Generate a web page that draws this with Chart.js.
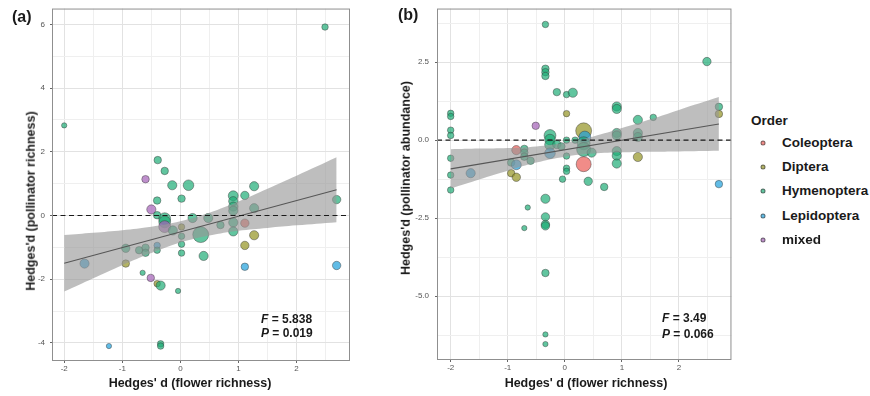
<!DOCTYPE html>
<html><head><meta charset="utf-8">
<script src="https://cdn.jsdelivr.net/npm/chart.js@4.4.1/dist/chart.umd.min.js"></script>
<style>
body{margin:0;background:#fff;}
#wrap{position:relative;width:870px;height:396px;overflow:hidden;font-family:"Liberation Sans",Arial,Helvetica,sans-serif;color:#1a1a1a;}
canvas{position:absolute;top:0;}
.t{position:absolute;white-space:nowrap;font-weight:bold;line-height:1;}
.c{transform:translate(-50%,-50%);}
.v{transform:translate(-50%,-50%) rotate(-90deg);}
.m{transform:translateY(-50%);}
.ttl{font-size:12.5px;}
.tag{font-size:16px;}
.st{font-size:12px;}
.lg{font-size:13.5px;}
.dot{position:absolute;width:5px;height:5px;border-radius:50%;transform:translate(-50%,-50%);box-sizing:border-box;border:0.6px solid rgba(70,70,70,0.7);}
</style>
</head><body>
<div id="wrap">
  <canvas id="ca" width="360" height="396" style="left:0px;width:360px;height:396px"></canvas>
  <canvas id="cb" width="360" height="396" style="left:380px;width:360px;height:396px"></canvas>

  <div class="t tag m" style="left:12px;top:17px">(a)</div>
  <div class="t tag m" style="left:398px;top:15px">(b)</div>

  <div class="t ttl v" style="left:31px;top:201px">Hedges'd (pollinator richness)</div>
  <div class="t ttl c" style="left:190px;top:383px">Hedges' d (flower richness)</div>
  <div class="t ttl v" style="left:406px;top:178px">Hedges'd (pollinator abundance)</div>
  <div class="t ttl c" style="left:586px;top:383px">Hedges' d (flower richness)</div>

  <div class="t st m" style="left:261px;top:319px"><i>F</i> = 5.838</div>
  <div class="t st m" style="left:261px;top:333px"><i>P</i> = 0.019</div>
  <div class="t st m" style="left:662px;top:318px"><i>F</i> = 3.49</div>
  <div class="t st m" style="left:662px;top:334px"><i>P</i> = 0.066</div>

  <div id="legend"></div>
</div>
<script>
// ---------------- DATA ----------------
const ORDERS = ['Coleoptera','Diptera','Hymenoptera','Lepidoptera','mixed'];
const ORDER_CODES = ['C','D','H','L','M'];

// Panel (a): pollinator richness vs flower richness
const aX = [-2.00, 2.49, -1.23, -0.34, -0.34, -0.39, -0.27, -0.60, -0.14, 0.14,
            -0.40, 0.02, -0.50, -0.40, -0.27, -0.27, -0.27, -0.13, 0.02, 0.02,
            0.21, 0.35, 0.02, 0.02, -0.40, -0.40, -0.94, -0.71, -0.60, -0.60,
            -1.65, -0.94, -0.65, -0.51, -0.40, -0.34, -0.04, 0.40, 0.48, 0.69,
            0.91, 0.91, 0.91, 0.91, 0.91, 0.91, 1.11, 1.27, 1.27, 1.11,
            1.27, 1.11, 1.11, 2.69, 2.69];
const aY = [2.83, 5.92, -4.10, -4.03, -4.10, 1.74, 1.40, 1.14, 0.95, 0.95,
            0.47, 0.53, 0.19, 0.01, -0.10, -0.20, -0.35, -0.47, -0.36, -0.65,
            -0.08, -0.60, -0.90, -1.18, -0.94, -1.09, -1.03, -1.09, -1.01, -1.17,
            -1.51, -1.51, -1.80, -1.96, -2.14, -2.20, -2.37, -1.27, -0.08, -0.30,
            0.62, 0.45, 0.28, 0.15, -0.22, -0.50, 0.63, 0.92, 0.23, -0.24,
            -0.62, -0.94, -1.61, 0.50, -1.57];
const aOrder = ['H','H','L','H','H','H','H','M','H','H',
                'H','H','M','H','H','H','M','H','D','H',
                'H','H','H','H','L','H','H','H','H','H',
                'L','D','H','M','D','H','H','H','H','H',
                'H','H','H','H','H','H','H','H','H','C',
                'D','D','L','H','L'];
const aWeight = [1, 1.5, 1, 1.5, 1.5, 2, 2, 2, 3, 4,
                 2, 2, 3, 2, 5, 5, 5, 3, 1.5, 1.5,
                 3, 9, 1.5, 1.5, 1.5, 1.5, 2.5, 2, 2, 2,
                 3, 2, 1, 2, 1.5, 3, 1, 3, 3, 2,
                 3.5, 3, 3, 3, 3, 3, 2.5, 3, 3, 2.5,
                 3, 2.5, 2, 2.5, 2.5];
const aFitX = [-2.00, 2.69];
const aFitY = [-1.50, 0.81];
const aBandX  = [-2.00, -1.50, -1.00, -0.50, 0.00, 0.50, 1.00, 1.50, 2.00, 2.69];
const aBandLo = [-2.39, -1.97, -1.56, -1.18, -0.85, -0.63, -0.48, -0.39, -0.31, -0.21];
const aBandHi = [-0.61, -0.54, -0.46, -0.35, -0.18, 0.09, 0.44, 0.84, 1.25, 1.83];
const aXLim = [-2.21, 2.92];
const aYLim = [-4.57, 6.50];
const aXMajor = [-2, -1, 0, 1, 2];
const aXMinor = [-1.5, -0.5, 0.5, 1.5, 2.5];
const aXLabels = ['-2', '-1', '0', '1', '2'];
const aYMajor = [-4, -2, 0, 2, 4, 6];
const aYMinor = [-3, -1, 1, 3, 5];
const aYLabels = ['-4', '-2', '0', '2', '4', '6'];

// Panel (b): pollinator abundance vs flower richness
const bX = [-0.34, 2.49, -0.34, -0.34, -0.34, -0.14, 0.03, 0.14, -2.00, -2.00,
            -2.00, -2.00, 0.03, -0.51, -0.26, -0.26, -0.26, -0.26, -2.00, -2.00,
            -2.00, -0.85, -0.71, -0.71, -0.71, -0.60, -0.94, -0.85, -1.65, -0.94,
            -0.85, 0.03, 0.03, -0.04, 0.03, 0.18, 0.33, 0.35, 0.33, 0.33,
            0.33, 0.47, 0.03, -0.14, 0.91, 0.91, 1.28, 1.55, 2.70, 2.70,
            0.91, 0.91, 0.91, 0.91, 0.91, 1.28, 1.28, 1.28, 0.41, 0.69,
            2.70, -0.34, -0.65, -0.34, -0.34, -0.34, -0.71, -0.34, -0.34, -0.34,
            -0.06];
const bY = [3.71, 2.52, 2.29, 2.18, 2.06, 1.54, 1.46, 1.52, 0.86, 0.76,
            0.32, 0.15, 0.85, 0.46, 0.15, 0.02, -0.15, -0.42, -0.58, -1.12,
            -1.60, -0.32, -0.28, -0.40, -0.53, -0.66, -0.72, -0.79, -1.06, -1.06,
            -1.19, -0.90, -1.00, -1.25, 0.00, 0.00, 0.30, 0.10, -0.10, -0.30,
            -0.77, -0.40, -0.51, -0.14, 1.08, 1.00, 0.65, 0.73, 1.07, 0.84,
            0.23, 0.15, -0.35, -0.50, -0.75, 0.23, 0.10, -0.54, -1.32, -1.50,
            -1.41, -1.88, -2.16, -2.46, -2.70, -2.75, -2.82, -4.26, -6.23, -6.54,
            -0.20];
const bOrder = ['H','H','H','H','H','H','H','H','H','H',
                'H','H','D','M','H','H','H','L','H','H',
                'H','C','H','H','H','H','H','L','L','D',
                'D','H','H','H','H','H','D','L','H','H',
                'C','H','H','H','H','H','H','H','H','D',
                'H','H','H','H','H','H','H','D','H','H',
                'L','H','H','H','H','H','H','H','H','H',
                'H'];
const bWeight = [1.5, 2.5, 2, 2, 2, 2, 1.5, 3, 1.5, 1.5,
                 1.5, 1.5, 1.5, 2, 5, 4, 4, 4, 1.5, 1.5,
                 1.5, 3, 2, 2, 2, 2, 2, 3.5, 3, 2,
                 2.5, 1.5, 1.5, 1.5, 1.5, 1.5, 9, 5, 6, 7,
                 8, 3, 1.5, 2.5, 3, 3, 3, 1.5, 2, 2,
                 3, 3, 3, 3, 3, 3, 3, 3, 2.5, 2,
                 2, 3, 1, 2.5, 2.5, 2.5, 1, 2, 1, 1,
                 2];
const bFitX = [-2.00, 2.70];
const bFitY = [-0.92, 0.52];
const bBandX  = [-2.00, -1.50, -1.00, -0.50, 0.00, 0.50, 1.00, 1.50, 2.00, 2.70];
const bBandLo = [-1.55, -1.26, -0.98, -0.72, -0.53, -0.43, -0.39, -0.37, -0.36, -0.34];
const bBandHi = [-0.29, -0.27, -0.25, -0.20, -0.08, 0.12, 0.39, 0.67, 0.97, 1.38];
const bXLim = [-2.24, 2.92];
const bYLim = [-7.05, 4.22];
const bXMajor = [-2, -1, 0, 1, 2];
const bXMinor = [-1.5, -0.5, 0.5, 1.5, 2.5];
const bXLabels = ['-2', '-1', '0', '1', '2'];
const bYMajor = [-5, -2.5, 0, 2.5];
const bYMinor = [-6.25, -3.75, -1.25, 1.25, 3.75];
const bYLabels = ['-5.0', '-2.5', '0.0', '2.5'];

// ---------------- STYLE ----------------
const FILL = {
  C: 'rgba(235,95,90,0.72)',
  D: 'rgba(150,150,40,0.72)',
  H: 'rgba(30,172,118,0.70)',
  L: 'rgba(30,160,220,0.70)',
  M: 'rgba(165,100,185,0.72)'
};
const FONT = '"Liberation Sans", Arial, sans-serif';
const radiusOf = w => 2.65 * Math.sqrt(w);

const framePlugin = {
  id: 'frame',
  afterDatasetsDraw(chart) {
    const {ctx, chartArea: {left, right}, scales: {y}} = chart;
    const py = y.getPixelForValue(0);
    ctx.save();
    ctx.setLineDash([5, 3.5]);
    ctx.strokeStyle = '#1a1a1a';
    ctx.lineWidth = 1.2;
    ctx.beginPath(); ctx.moveTo(left, py); ctx.lineTo(right, py); ctx.stroke();
    ctx.restore();
  },
  afterDraw(chart) {
    const {ctx, chartArea: {left, right, top, bottom}} = chart;
    ctx.save();
    ctx.strokeStyle = '#8f8f8f';
    ctx.lineWidth = 1;
    ctx.strokeRect(left + 0.5, top + 0.5, right - left - 1, bottom - top - 1);
    ctx.restore();
  }
};

function makeChart(id, p) {
  const pts = p.x.map((v, i) => ({x: v, y: p.y[i]}));
  const xTicks = p.xMajor.concat(p.xMinor).sort((a, b) => a - b);
  const yTicks = p.yMajor.concat(p.yMinor).sort((a, b) => a - b);
  const isMajor = (arr, v) => arr.indexOf(v) >= 0;
  const gridCfg = (major) => ({
    color: c => (c.tick && isMajor(major, c.tick.value)) ? '#e2e2e2' : '#efefef',
    lineWidth: 1,
    tickColor: c => (c.tick && isMajor(major, c.tick.value)) ? '#666' : 'rgba(0,0,0,0)',
    tickLength: 2,
    drawTicks: true
  });
  return new Chart(document.getElementById(id), {
    type: 'scatter',
    data: {
      datasets: [
        {
          data: pts,
          order: 3,
          pointRadius: p.w.map(radiusOf),
          pointBackgroundColor: p.ord.map(o => FILL[o]),
          pointBorderColor: 'rgba(55,55,55,0.75)',
          pointBorderWidth: 0.6
        },
        {
          data: p.bandX.map((v, i) => ({x: v, y: p.bandHi[i]})),
          order: 2, showLine: true, pointRadius: 0, borderWidth: 0,
          borderColor: 'rgba(0,0,0,0)', fill: false, tension: 0.4
        },
        {
          data: p.bandX.map((v, i) => ({x: v, y: p.bandLo[i]})),
          order: 2, showLine: true, pointRadius: 0, borderWidth: 0,
          borderColor: 'rgba(0,0,0,0)', fill: '-1', tension: 0.4,
          backgroundColor: 'rgba(150,150,150,0.62)'
        },
        {
          data: p.fitX.map((v, i) => ({x: v, y: p.fitY[i]})),
          order: 1, showLine: true, pointRadius: 0, borderWidth: 1.1,
          borderColor: '#575757', fill: false
        }
      ]
    },
    options: {
      responsive: false, animation: false, devicePixelRatio: 1, events: [],
      layout: {padding: p.pad},
      plugins: {legend: {display: false}, tooltip: {enabled: false}},
      scales: {
        x: {
          type: 'linear', min: p.xLim[0], max: p.xLim[1],
          afterBuildTicks: s => { s.ticks = xTicks.map(v => ({value: v})); },
          afterFit: s => { s.height = p.xH; s.paddingLeft = 0; s.paddingRight = 0; },
          ticks: {
            autoSkip: false, maxRotation: 0, padding: 1,
            font: {family: FONT, size: 8}, color: '#555',
            callback: v => { const i = p.xMajor.indexOf(v); return i >= 0 ? p.xLabels[i] : ''; }
          },
          grid: gridCfg(p.xMajor),
          border: {display: false}
        },
        y: {
          type: 'linear', min: p.yLim[0], max: p.yLim[1],
          afterBuildTicks: s => { s.ticks = yTicks.map(v => ({value: v})); },
          afterFit: s => { s.width = p.yW; s.paddingTop = 0; s.paddingBottom = 0; },
          ticks: {
            autoSkip: false, padding: p.yPad,
            font: {family: FONT, size: 8}, color: '#555',
            callback: v => { const i = p.yMajor.indexOf(v); return i >= 0 ? p.yLabels[i] : ''; }
          },
          grid: gridCfg(p.yMajor),
          border: {display: false}
        }
      }
    },
    plugins: [framePlugin]
  });
}

makeChart('ca', {
  x: aX, y: aY, ord: aOrder, w: aWeight,
  fitX: aFitX, fitY: aFitY, bandX: aBandX, bandLo: aBandLo, bandHi: aBandHi,
  xLim: aXLim, yLim: aYLim, xMajor: aXMajor, xMinor: aXMinor, xLabels: aXLabels,
  yMajor: aYMajor, yMinor: aYMinor, yLabels: aYLabels,
  pad: {left: 0, top: 6, right: 10, bottom: 0}, yW: 52, xH: 35, yPad: 5
});
makeChart('cb', {
  x: bX, y: bY, ord: bOrder, w: bWeight,
  fitX: bFitX, fitY: bFitY, bandX: bBandX, bandLo: bBandLo, bandHi: bBandHi,
  xLim: bXLim, yLim: bYLim, xMajor: bXMajor, xMinor: bXMinor, xLabels: bXLabels,
  yMajor: bYMajor, yMinor: bYMinor, yLabels: bYLabels,
  pad: {left: 0, top: 4, right: 7, bottom: 0}, yW: 57, xH: 36, yPad: 6
});

// Legend
(function () {
  const lg = document.getElementById('legend');
  let html = '<div class="t lg m" style="left:751px;top:121px">Order</div>';
  ORDERS.forEach((name, i) => {
    const y = 143 + i * 24.2;
    html += '<div class="dot" style="left:763px;top:' + y + 'px;background:' + FILL[ORDER_CODES[i]] + '"></div>';
    html += '<div class="t lg m" style="left:782px;top:' + y + 'px">' + name + '</div>';
  });
  lg.innerHTML = html;
})();
</script>
</body></html>
